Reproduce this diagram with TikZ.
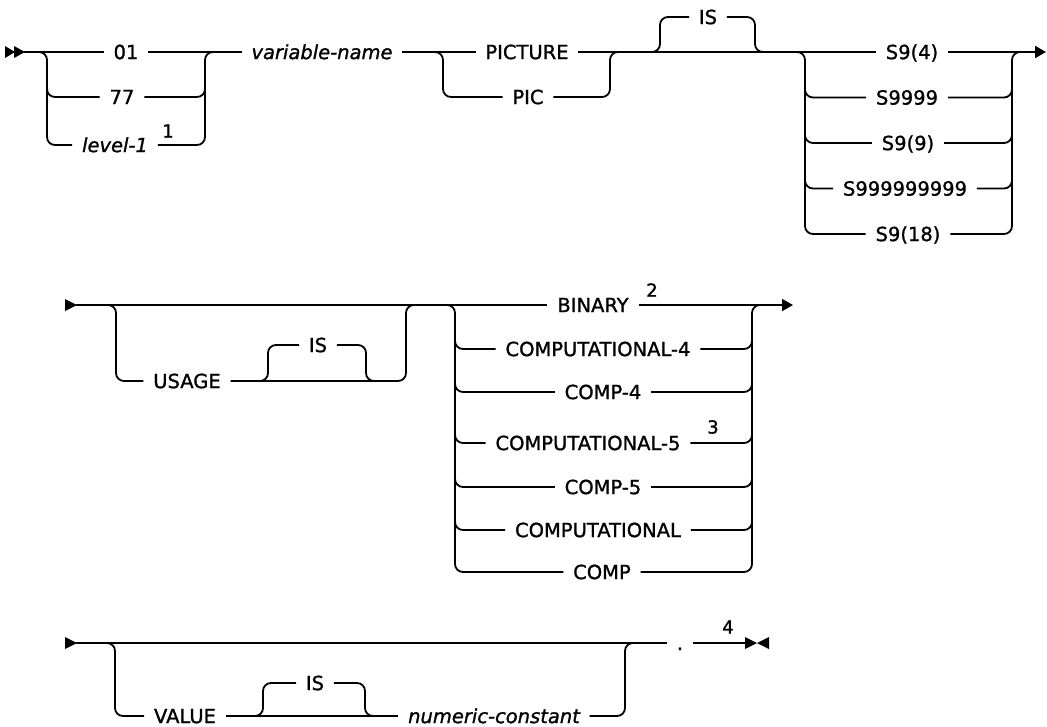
\documentclass[tikz,border=0pt]{standalone}
\usepackage{fontspec}
\setmainfont{DejaVu Sans}[FakeBold=1.2]
\usetikzlibrary{arrows.meta}
\begin{document}
\begin{tikzpicture}[x=1pt,y=-1pt,
  line width=1.8pt,
  rr/.style={rounded corners=8pt},
  kw/.style={font=\fontsize{19.5}{20}\selectfont, inner xsep=9pt, inner ysep=0pt, text height=14.2pt, text depth=0pt, anchor=center},
  var/.style={kw, font=\itshape\fontsize{19.5}{20}\selectfont},
  fn/.style={font=\fontsize{18}{20}\selectfont, inner sep=0pt},
  endarrow/.style={-{Triangle[length=11pt,width=12pt]}},
]
\useasboundingbox (0,0) rectangle (1047,726);

% ---------- Row 1 ----------
\fill (5,46) -- (15,52) -- (5,58) -- cycle;
\fill (14,46) -- (25,52) -- (14,58) -- cycle;
\coordinate (s1) at (24,52);
\node[kw] (n01) at (126,52) {01};
\node[kw] (n77) at (122,97) {77};
\node[var] (lvl) at (115,145) {level-1};
\node[fn] (f1) at (168,131) {1};
\node[var] (vn) at (322,52) {variable-name};
\node[kw] (pict) at (527,52) {PICTURE};
\node[kw] (pic) at (528,97) {PIC};
\node[kw] (is1) at (708,17) {IS};
\node[kw] (a1) at (912,52) {S9(4)};
\node[kw] (a2) at (907,97.5) {S9999};
\node[kw] (a3) at (908,143) {S9(9)};
\node[kw] (a4) at (905,188.5) {S999999999};
\node[kw] (a5) at (908,234) {S9(18)};
\coordinate (e1) at (1046,52);

\draw (s1) -- (n01) -- (vn) -- (pict) -- (a1);
\draw[endarrow] (a1) -- (e1);

\draw[rr] (39,52) -- (47,52) -- (47,145) -- (lvl);
\draw[rr] (47,85) -- (47,97) -- (n77);
\draw[rr] (lvl) -- (205,145) -- (205,52) -- (213,52);
\draw[rr] (n77) -- (205,97) -- (205,85);

\draw[rr] (435,52) -- (443,52) -- (443,97) -- (pic);
\draw[rr] (pic) -- (610,97) -- (610,52) -- (618,52);

\draw[rr] (652,52) -- (660,52) -- (660,17) -- (is1);
\draw[rr] (is1) -- (755,17) -- (755,52) -- (763,52);

\draw[rr] (797,52) -- (805,52) -- (805,234) -- (a5);
\draw[rr] (805,85) -- (805,97.5) -- (a2);
\draw[rr] (805,130) -- (805,143) -- (a3);
\draw[rr] (805,176) -- (805,188.5) -- (a4);
\draw[rr] (a5) -- (1012,234) -- (1012,52) -- (1020,52);
\draw[rr] (a2) -- (1012,97.5) -- (1012,85);
\draw[rr] (a3) -- (1012,143) -- (1012,130);
\draw[rr] (a4) -- (1012,188.5) -- (1012,176);

% ---------- Row 2 ----------
\fill (65,299) -- (77,305) -- (65,311) -- cycle;
\coordinate (s2) at (76,305);
\node[kw] (usage) at (187,381) {USAGE};
\node[kw] (is2) at (318,345) {IS};
\node[kw] (b1) at (593,305) {BINARY};
\node[fn] (f2) at (652,290) {2};
\node[kw] (b2) at (598,349) {COMPUTATIONAL-4};
\node[kw] (b3) at (603,392) {COMP-4};
\node[kw] (b4) at (588,443) {COMPUTATIONAL-5};
\node[fn] (f3) at (713,427) {3};
\node[kw] (b5) at (603,487) {COMP-5};
\node[kw] (b6) at (598,530) {COMPUTATIONAL};
\node[kw] (b7) at (602,572) {COMP};
\coordinate (e2) at (793,305);

\draw (s2) -- (b1);
\draw[endarrow] (b1) -- (e2);

\draw[rr] (108,305) -- (116,305) -- (116,381) -- (usage);
\draw[rr] (usage) -- (406,381) -- (406,305) -- (414,305);
\draw[rr] (260,381) -- (268,381) -- (268,345) -- (is2);
\draw[rr] (is2) -- (366,345) -- (366,381) -- (374,381);

\draw[rr] (447,305) -- (455,305) -- (455,572) -- (b7);
\draw[rr] (455,337) -- (455,349) -- (b2);
\draw[rr] (455,380) -- (455,392) -- (b3);
\draw[rr] (455,431) -- (455,443) -- (b4);
\draw[rr] (455,475) -- (455,487) -- (b5);
\draw[rr] (455,518) -- (455,530) -- (b6);
\draw[rr] (b7) -- (752,572) -- (752,305) -- (760,305);
\draw[rr] (b2) -- (752,349) -- (752,337);
\draw[rr] (b3) -- (752,392) -- (752,380);
\draw[rr] (b4) -- (752,443) -- (752,431);
\draw[rr] (b5) -- (752,487) -- (752,475);
\draw[rr] (b6) -- (752,530) -- (752,518);

% ---------- Row 3 ----------
\fill (65,637) -- (77,643) -- (65,649) -- cycle;
\coordinate (s3) at (76,643);
\node[kw] (val) at (185,716) {VALUE};
\node[kw] (is3) at (315,683) {IS};
\node[var] (numc) at (494,716) {numeric-constant};
\node[kw] (dot) at (680,643) {.};
\node[fn] (f4) at (728,627) {4};
\coordinate (e3) at (746,643);

\draw (s3) -- (dot) -- (e3);
\fill (745,637) -- (757,643) -- (745,649) -- cycle;
\fill (769,637) -- (757,643) -- (769,649) -- cycle;

\draw[rr] (107,643) -- (115,643) -- (115,716) -- (val);
\draw (val) -- (numc);
\draw[rr] (numc) -- (625,716) -- (625,643) -- (633,643);
\draw[rr] (255,716) -- (263,716) -- (263,683) -- (is3);
\draw[rr] (is3) -- (365,683) -- (365,716) -- (373,716);
\end{tikzpicture}
\end{document}
